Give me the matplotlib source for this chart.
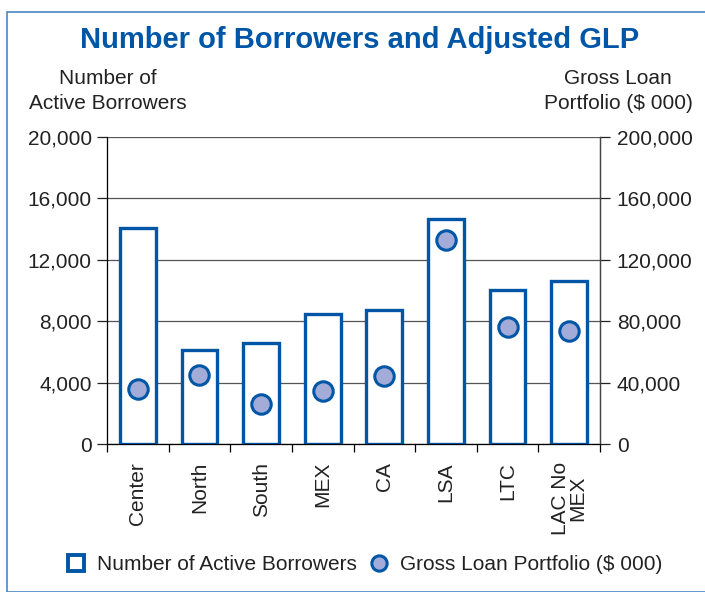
import matplotlib.pyplot as plt
from matplotlib.patches import Rectangle
from matplotlib.ticker import FuncFormatter
from matplotlib.lines import Line2D
import numpy as np

plt.rcParams['font.family'] = ['Liberation Sans', 'DejaVu Sans']

# --- data ---
regions = ['Center', 'North', 'South', 'MEX', 'CA', 'LSA', 'LTC', 'LAC No\nMEX']
borrowers = [14100, 6100, 6600, 8450, 8700, 14650, 10050, 10650]
glp = [35800, 44700, 26000, 34700, 44000, 132600, 76000, 73400]

blue = '#0056a6'
dot_fill = '#a3acd8'
txt = '#222222'
fs = 15

W, H = 705, 592
fig = plt.figure(figsize=(W / 100, H / 100), dpi=100)

# outer frame
fig.patches.append(Rectangle((7 / W, 0), 1, 1 - 12 / H, transform=fig.transFigure,
                             fill=False, edgecolor='#4a86c5', linewidth=1.2))

ax = fig.add_axes([107 / W, 1 - 444 / H, (600 - 107) / W, (444 - 137) / H])
x = np.arange(len(regions))

ax.bar(x, borrowers, width=0.58, facecolor='white', edgecolor=blue, linewidth=2.4, zorder=3)
ax.set_xlim(-0.5, len(regions) - 0.5)
ax.set_ylim(0, 20000)
ax.set_yticks(np.arange(0, 20001, 4000))
ax.yaxis.set_major_formatter(FuncFormatter(lambda v, p: f'{int(v):,}'))
ax.grid(axis='y', color='#555555', linewidth=0.9, zorder=0)
ax.tick_params(axis='y', direction='out', length=7, width=0.9, labelsize=fs,
               colors=txt, pad=4)

ax.set_xticks(x)
ax.set_xticklabels(regions, rotation=90, fontsize=fs, va='top', linespacing=0.9)
ax.tick_params(axis='x', length=0, pad=13, colors=txt)
ax.set_xticks(np.arange(-0.5, len(regions), 1), minor=True)
ax.tick_params(axis='x', which='minor', direction='out', length=6, width=0.9)

ax.spines['top'].set_visible(False)
for s in ['left', 'right', 'bottom']:
    ax.spines[s].set_color('#444444')
    ax.spines[s].set_linewidth(0.9)

ax2 = ax.twinx()
ax2.plot(x, glp, linestyle='none', marker='o', markersize=14, markerfacecolor=dot_fill,
         markeredgecolor=blue, markeredgewidth=2.2, zorder=5)
ax2.set_ylim(0, 200000)
ax2.set_yticks(np.arange(0, 200001, 40000))
ax2.yaxis.set_major_formatter(FuncFormatter(lambda v, p: f'{int(v):,}'))
ax2.tick_params(axis='y', direction='out', length=7, width=0.9, labelsize=fs,
                colors=txt, pad=5)
ax2.spines['top'].set_visible(False)
ax2.spines['right'].set_color('#444444')
ax2.spines['right'].set_linewidth(0.9)
ax2.set_zorder(ax.get_zorder() + 1)
ax2.patch.set_visible(False)

fig.text(360 / W, 1 - 40 / H, 'Number of Borrowers and Adjusted GLP', ha='center', va='center',
         fontsize=21, fontweight='bold', color=blue)
fig.text(108 / W, 1 - 91 / H, 'Number of\nActive Borrowers', ha='center', va='center',
         fontsize=fs, color=txt, linespacing=1.4)
fig.text(618 / W, 1 - 91 / H, 'Gross Loan\nPortfolio ($ 000)', ha='center', va='center',
         fontsize=fs, color=txt, linespacing=1.4)

handles = [
    Line2D([], [], linestyle='none', marker='s', markersize=11, markerfacecolor='white',
           markeredgecolor=blue, markeredgewidth=2.8),
    Line2D([], [], linestyle='none', marker='o', markersize=11, markerfacecolor=dot_fill,
           markeredgecolor=blue, markeredgewidth=2.2),
]
fig.legend(handles, ['Number of Active Borrowers', 'Gross Loan Portfolio ($ 000)'],
           loc='center', bbox_to_anchor=(364 / W, 1 - 565 / H), ncol=2, frameon=False,
           fontsize=fs, handlelength=1, handletextpad=0.5, columnspacing=0.6,
           labelcolor=txt)

fig.savefig('out.png', dpi=100)
